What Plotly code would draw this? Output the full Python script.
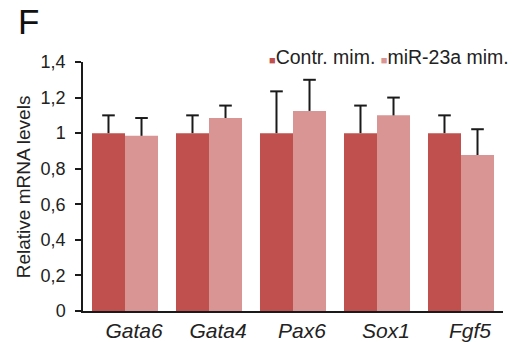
import plotly.graph_objects as go

genes = ["Gata6", "Gata4", "Pax6", "Sox1", "Fgf5"]
contr = [1.0, 1.0, 1.0, 1.0, 1.0]
contr_err = [0.10, 0.10, 0.235, 0.155, 0.10]
mir = [0.985, 1.085, 1.125, 1.10, 0.877]
mir_err = [0.10, 0.07, 0.175, 0.10, 0.145]
y_ticks = [0, 0.2, 0.4, 0.6, 0.8, 1.0, 1.2, 1.4]
y_labels = ["0", "0,2", "0,4", "0,6", "0,8", "1", "1,2", "1,4"]
tick_text = ["<i>%s</i>" % g for g in genes]

font = "Liberation Sans, Arial, sans-serif"
dark = "#C0504D"
light = "#D99594"
ink = "#1a1a1a"

fig = go.Figure()
for name, vals, errs, col, grp in [("Contr. mim.", contr, contr_err, dark, "a"),
                                    ("miR-23a mim.", mir, mir_err, light, "b")]:
    fig.add_trace(go.Bar(
        x=genes, y=vals, name=name, offsetgroup=grp, showlegend=False,
        marker=dict(color=col, line=dict(width=0)),
        error_y=dict(type="data", array=errs, arrayminus=[0] * len(errs), symmetric=False,
                     color=ink, thickness=2, width=0),
    ))
    fig.add_trace(go.Scatter(
        x=genes, y=[v + e for v, e in zip(vals, errs)], offsetgroup=grp,
        mode="markers", showlegend=False, hoverinfo="skip",
        marker=dict(symbol="line-ew-open", size=9, color=ink, line=dict(color=ink, width=2)),
    ))

legend_text = ('<span style="color:%s;font-size:11px">■</span>Contr. mim. '
               '<span style="color:%s;font-size:11px">■</span>miR-23a mim.') % (dark, light)

fig.update_layout(
    width=518, height=342,
    margin=dict(l=83, r=15, t=62, b=31),
    paper_bgcolor="white", plot_bgcolor="white",
    barmode="group", bargap=0.214, bargroupgap=0,
    scattermode="group", scattergap=0.214,
    font=dict(family=font, size=18, color="#222222"),
    showlegend=False,
    xaxis=dict(tickmode="array", tickvals=genes, ticktext=tick_text,
               showline=True, linecolor=ink, linewidth=1.5,
               ticks="", tickfont=dict(size=21, color="#222222"),
               ticklabelshift=9,
               range=[-0.5, 4.5], showgrid=False, automargin=False),
    yaxis=dict(range=[0, 1.4], tickmode="array", tickvals=y_ticks, ticktext=y_labels,
               showline=True, linecolor=ink, linewidth=1.5,
               ticks="outside", ticklen=6, tickcolor=ink, tickwidth=1.5,
               ticklabelstandoff=6,
               tickfont=dict(size=18, color="#222222"), showgrid=False, zeroline=False,
               automargin=False),
    annotations=[
        dict(text="F", xref="paper", yref="paper", x=-0.157, y=1.246,
             xanchor="left", yanchor="top", showarrow=False, borderpad=0,
             font=dict(size=35, color="#111111")),
        dict(text=legend_text, xref="paper", yref="paper", x=1.02, y=1.02,
             xanchor="right", yanchor="middle", showarrow=False,
             font=dict(size=19.5, color="#222222")),
        dict(text="Relative mRNA levels", xref="paper", yref="paper", x=-0.141, y=0.5,
             xanchor="center", yanchor="middle", textangle=-90, showarrow=False,
             font=dict(size=19, color="#222222")),
    ],
)
fig.write_html("out.html", config={"displayModeBar": False},
               post_script="document.body.style.margin='0';")
